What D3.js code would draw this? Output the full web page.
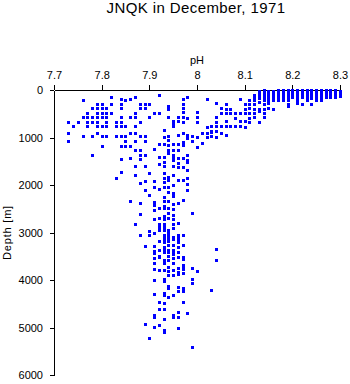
<!DOCTYPE html>
<html>
<head>
<meta charset="utf-8">
<script src="https://cdn.jsdelivr.net/npm/d3@7"></script>
<style>
  html, body { margin: 0; padding: 0; background: #fff; }
  svg { display: block; font-family: "Liberation Sans", Arial, sans-serif; }
</style>
</head>
<body>
<svg id="chart" width="350" height="384"></svg>
<script>
// ---- data ----
const titleText = "JNQK in December, 1971";
const xLabel = "pH";
const yLabel = "Depth [m]";
const xTicks = [7.7, 7.8, 7.9, 8.0, 8.1, 8.2, 8.3];
const yTicks = [0, 1000, 2000, 3000, 4000, 5000, 6000];

// pH of each measured column
const phValues = [
  7.73, 7.74, 7.75, 7.76, 7.77, 7.78, 7.79, 7.80, 7.81, 7.82,
  7.83, 7.84, 7.85, 7.86, 7.87, 7.88, 7.89, 7.90, 7.91, 7.92,
  7.93, 7.94, 7.95, 7.96, 7.97, 7.98, 7.99, 8.00, 8.01, 8.02,
  8.03, 8.04, 8.05, 8.06, 8.07, 8.08, 8.09, 8.10, 8.11, 8.12,
  8.13, 8.14, 8.15, 8.16, 8.17, 8.18, 8.19, 8.20, 8.21, 8.22,
  8.23, 8.24, 8.25, 8.26, 8.27, 8.28, 8.29, 8.30
];
// depths (m) observed at each pH value above
const depthLists = [
  [667, 900, 1075],
  [765],
  [667],
  [200, 575, 970],
  [484, 575, 667, 765],
  [380, 575, 667, 970, 1370],
  [295, 380, 484, 575, 667, 765, 900],
  [295, 380, 484, 575, 765, 970, 1170],
  [380, 484, 575, 667, 765, 970],
  [154, 295, 484],
  [667, 765, 970, 1860],
  [190, 295, 380, 575, 667, 765, 970, 1170, 1460, 1730],
  [200, 765, 970, 1075, 1170],
  [190, 575, 900, 1170, 1430, 2330],
  [154, 484, 575, 765, 900, 1075, 1270, 1600, 1790, 2820],
  [295, 380, 667, 970, 1270, 1370, 1460, 1950, 2380, 2600, 3050],
  [295, 380, 970, 1075, 1370, 1610, 1910, 2100, 3280, 4930],
  [295, 575, 1755, 2210, 2960, 3050, 5230],
  [484, 1242, 1909, 2049, 2351, 2421, 2527, 2716, 3004, 3277, 3390, 3439, 3544, 3649, 3776, 4000, 4302, 4737, 4786, 4982],
  [112, 484, 1140, 1417, 1560, 2091, 2491, 2702, 2828, 2891, 2948, 3172, 3369, 3495, 3523, 3790, 4470, 4618, 4947],
  [835, 996, 1140, 1417, 1515, 1607, 1755, 1860, 1930, 2035, 2246, 2330, 2442, 2491, 2653, 2723, 2821, 2877, 2948, 3053, 3102, 3158, 3193, 3298, 3369, 3404, 3579, 3649, 3790, 3986, 4014, 4267, 4316, 4491, 4618, 4828, 5053, 5088],
  [344, 393, 575, 960, 1045, 1160, 1256, 1326, 1825, 1895, 2049, 2141, 2330, 2491, 2597, 2702, 2948, 3018, 3074, 3144, 3179, 3263, 3369, 3404, 3495, 3579, 3719, 3804, 3895, 4126, 4176, 4351],
  [660, 716, 765, 1140, 1256, 1361, 1431, 1474, 1607, 1790, 2000, 2162, 2225, 2400, 2512, 2632, 2723, 2828, 2912, 3102, 3144, 3263, 3369, 3404, 3453, 3544, 3649, 3790, 3895, 4316, 4737, 4772],
  [575, 660, 940, 1140, 1256, 1431, 1544, 1628, 1895, 2386, 2807, 3053, 3088, 3144, 3193, 3298, 3404, 3509, 3755, 3825, 3874, 4140, 4232, 4667, 4772, 5004],
  [196, 295, 370, 463, 575, 680, 905, 1100, 1158, 1431, 1628, 1895, 2316, 3053, 3263, 3509, 3565, 3684, 3733, 3776, 3846, 4176, 4232, 4470],
  [154, 582, 940, 975, 1000, 1375, 1466, 1509, 1684, 1860, 1979, 2105, 4702],
  [975, 1066, 2597, 3755, 3986, 4056, 5418],
  [463, 575, 673, 996, 1193, 3811],
  [905, 1108],
  [196, 786, 905, 983],
  [750, 856, 877, 960, 4211],
  [266, 575, 673, 765, 856, 996, 3355, 3579],
  [386, 484, 765, 905],
  [295, 393, 491, 660, 765, 940],
  [393, 484, 765],
  [484, 590, 765],
  [196, 484, 660, 765],
  [295, 393, 484, 660, 786],
  [203, 295, 379, 484, 590, 680],
  [100, 125, 150, 175, 200, 295, 393, 484, 575],
  [20, 40, 60, 80, 100, 125, 150, 175, 260, 393, 450, 680],
  [10, 30, 50, 75, 100, 125, 150, 203, 295, 393, 484, 575],
  [20, 50, 75, 100, 125, 150, 175, 200, 277, 386],
  [30, 50, 75, 100, 125, 150, 175, 200, 393],
  [10, 30, 50, 75, 100, 125, 150, 175, 200],
  [10, 30, 50, 75, 100, 125, 150, 175, 200],
  [10, 30, 50, 75, 100, 125, 150, 175, 200, 295, 345],
  [0, 25, 50, 75, 100, 125, 150],
  [10, 30, 50, 75, 100, 125, 150, 203, 280],
  [10, 30, 50, 75, 100, 125, 150, 295],
  [10, 30, 50, 75, 100, 125, 150, 175, 200],
  [10, 30, 50, 75, 100, 125, 150, 175, 295],
  [10, 30, 50, 75, 100, 125, 150, 175, 200],
  [10, 30, 50, 75, 100, 125, 150, 175, 200],
  [10, 30, 50, 75, 100, 125, 150],
  [10, 30, 50, 75, 100, 125, 150],
  [10, 30, 50, 75, 100, 125, 150],
  [20, 45, 75, 100, 120]
];

// ---- chart ----
const points = [];
phValues.forEach((ph, i) => depthLists[i].forEach(d => points.push({ ph, depth: d })));

const svg = d3.select("#chart");
const x = d3.scaleLinear().domain([7.7, 8.3]).range([54, 340]);
const y = d3.scaleLinear().domain([0, 6000]).range([90, 375]);

svg.append("text")
  .attr("x", 196).attr("y", 13)
  .attr("text-anchor", "middle")
  .attr("font-size", 15)
  .attr("letter-spacing", 0.4)
  .text(titleText);

const xAxis = svg.append("g")
  .attr("transform", `translate(0,${y(0)})`)
  .call(d3.axisTop(x).tickValues(xTicks).tickFormat(d3.format("~g")).tickSize(5).tickPadding(6).tickSizeOuter(0));
const yAxis = svg.append("g")
  .attr("transform", `translate(${x(7.7)},0)`)
  .call(d3.axisLeft(y).tickValues(yTicks).tickFormat(d3.format("d")).tickSize(4).tickPadding(7).tickSizeOuter(0));

[xAxis, yAxis].forEach(g => {
  g.selectAll("path, line").attr("stroke", "#000").attr("shape-rendering", "crispEdges");
  g.selectAll("text").attr("font-size", 11).attr("fill", "#000")
    .attr("font-family", "'Liberation Sans', Arial, sans-serif");
});

svg.append("text")
  .attr("x", 197).attr("y", 64)
  .attr("text-anchor", "middle")
  .attr("font-size", 11)
  .text(xLabel);

svg.append("text")
  .attr("transform", `translate(11,${(y(0) + y(6000)) / 2}) rotate(-90)`)
  .attr("text-anchor", "middle")
  .attr("font-size", 11)
  .attr("letter-spacing", 0.8)
  .text(yLabel);

svg.append("g")
  .selectAll("rect")
  .data(points)
  .join("rect")
  .attr("x", d => Math.round(x(d.ph)) - 1)
  .attr("y", d => Math.round(y(d.depth)) - 1)
  .attr("width", 3)
  .attr("height", 3)
  .attr("fill", "#0000ff")
  .attr("shape-rendering", "crispEdges");
</script>
</body>
</html>
